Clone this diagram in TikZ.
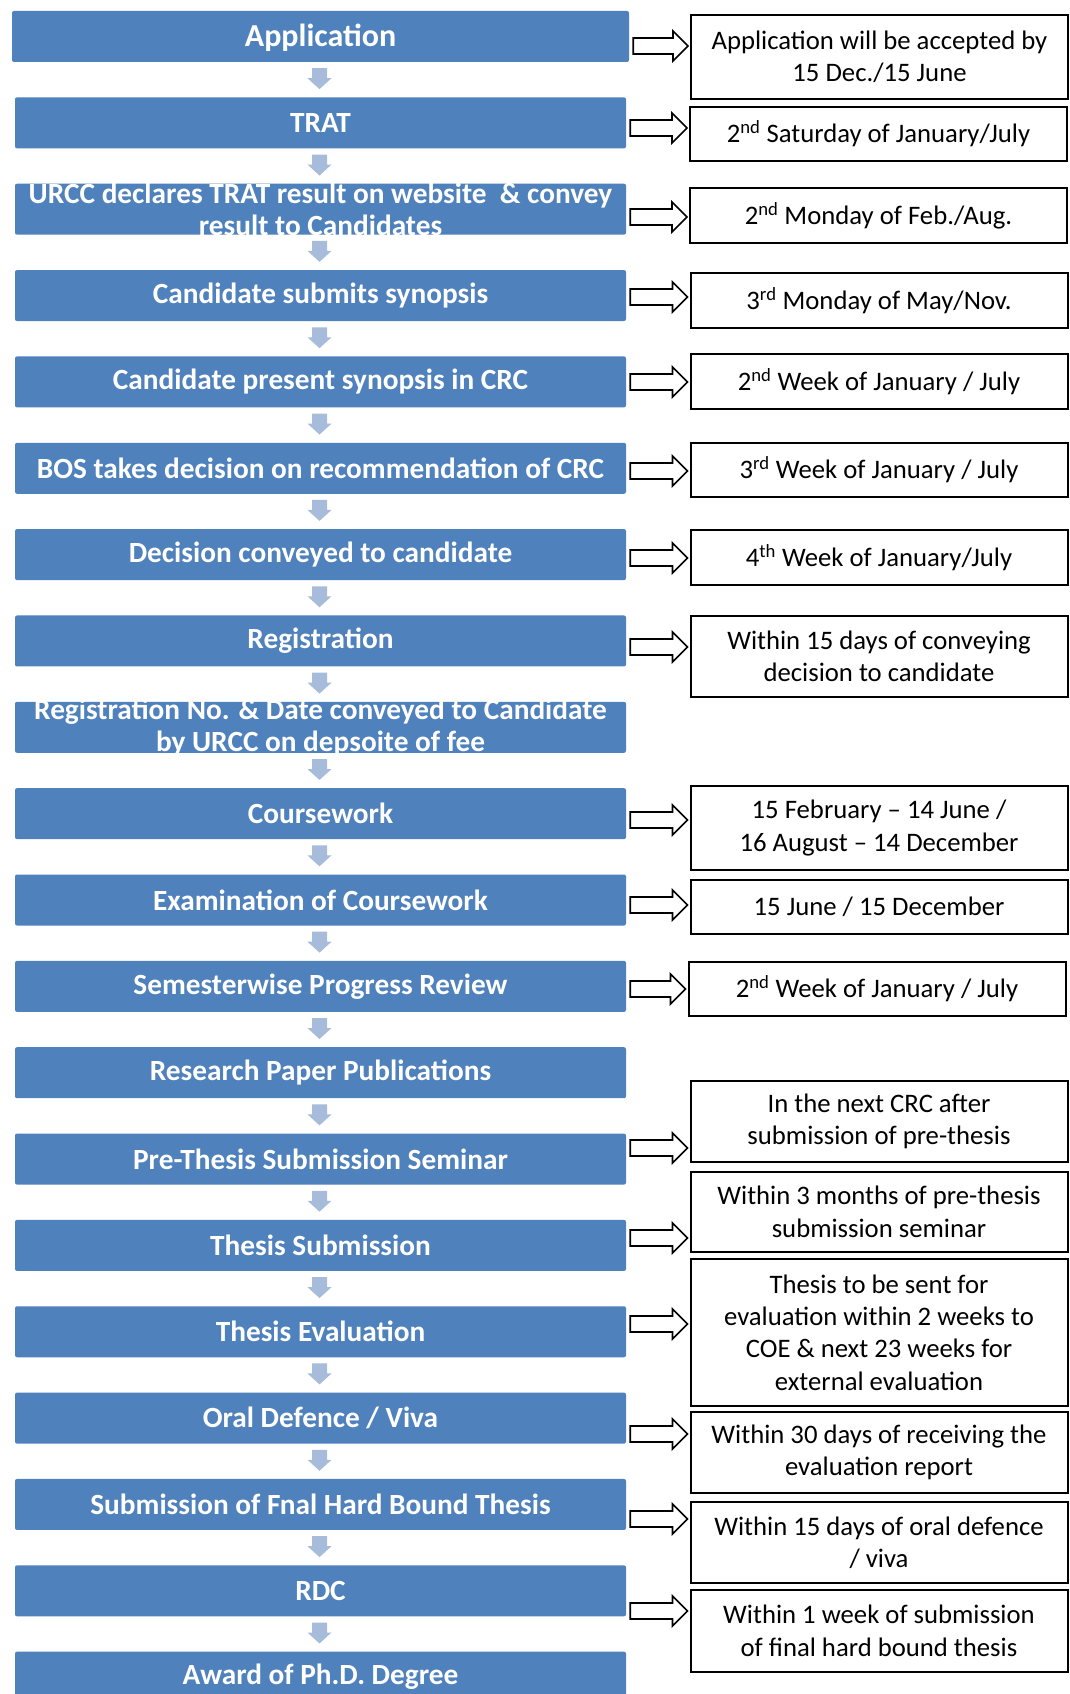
\documentclass[tikz,border=0pt]{standalone}
\usepackage{fontspec}
\setmainfont{Carlito}
\usetikzlibrary{calc}
\definecolor{boxblue}{RGB}{79,129,189}
\definecolor{arrblue}{RGB}{167,187,218}
\newcommand\harrow[3]{%
 \draw[hollow] let \p1=(#1.east), \p2=(#2.west), \p3=(0,#3) in
 (\x1+4pt,\y3+8pt) -- (\x2-17pt,\y3+8pt) -- (\x2-17pt,\y3+15pt) -- (\x2-2pt,\y3)
 -- (\x2-17pt,\y3-15pt) -- (\x2-17pt,\y3-8pt) -- (\x1+4pt,\y3-8pt) -- cycle;}
\newcommand\varrow[2]{%
 \fill[arrblue] let \p1=(#1.south), \p2=(#2.north) in
 (\x1-8.5pt,\y1-6pt) -- (\x1+6.5pt,\y1-6pt) -- (\x1+6.5pt,\y1-16pt) -- (\x1+11pt,\y1-16pt)
 -- (\x1-1pt,\y2+8pt) -- (\x1-13pt,\y1-16pt) -- (\x1-8.5pt,\y1-16pt) -- cycle;}
\begin{document}
\begin{tikzpicture}[x=1pt,y=-1pt,
  bbox/.style={fill=boxblue,draw=none,rounded corners=2pt,minimum width=611pt,minimum height=51pt,inner sep=0pt},
  btext/.style={text=white,font=\bfseries\fontsize{29.3}{32.4}\selectfont,align=center,inner sep=0pt},
  rbox/.style={draw=black,line width=2pt,fill=white,minimum width=377pt,inner sep=0pt,align=center,font=\fontsize{26.7}{32.4}\selectfont},
  hollow/.style={draw=black,line width=1.6pt,fill=white,line join=miter}]
\clip (0,0) rectangle (1070,1694);
\fill[white] (0,0) rectangle (1070,1694);
% blue boxes
\node[bbox,minimum width=617pt] (b0) at (320.5,36.5) {};
\node[bbox] (b1) at (320.5,122.85) {};
\node[bbox] (b2) at (320.5,209.2) {};
\node[bbox] (b3) at (320.5,295.55) {};
\node[bbox] (b4) at (320.5,381.9) {};
\node[bbox] (b5) at (320.5,468.25) {};
\node[bbox] (b6) at (320.5,554.6) {};
\node[bbox] (b7) at (320.5,640.95) {};
\node[bbox] (b8) at (320.5,727.3) {};
\node[bbox] (b9) at (320.5,813.65) {};
\node[bbox] (b10) at (320.5,900.0) {};
\node[bbox] (b11) at (320.5,986.35) {};
\node[bbox] (b12) at (320.5,1072.7) {};
\node[bbox] (b13) at (320.5,1159.05) {};
\node[bbox] (b14) at (320.5,1245.4) {};
\node[bbox] (b15) at (320.5,1331.75) {};
\node[bbox] (b16) at (320.5,1418.1) {};
\node[bbox] (b17) at (320.5,1504.45) {};
\node[bbox] (b18) at (320.5,1590.8) {};
\node[bbox] (b19) at (320.5,1677.15) {};
% blue texts
\node[btext,font=\bfseries\fontsize{32}{36}\selectfont] (t0) at ([yshift=-1pt]b0) {Application};
\node[btext] (t1) at (b1) {TRAT};
\node[btext] (t2) at (b2) {URCC declares TRAT result on website \ \& convey\\result to Candidates};
\node[btext] (t3) at (b3) {Candidate submits synopsis};
\node[btext] (t4) at (b4) {Candidate present synopsis in CRC};
\node[btext] (t5) at (b5) {BOS takes decision on recommendation of CRC};
\node[btext] (t6) at (b6) {Decision conveyed to candidate};
\node[btext] (t7) at (b7) {Registration};
\node[btext] (t8) at (b8) {Registration No. \& Date conveyed to Candidate\\by URCC on depsoite of fee};
\node[btext] (t9) at (b9) {Coursework};
\node[btext] (t10) at (b10) {Examination of Coursework};
\node[btext] (t11) at (b11) {Semesterwise Progress Review};
\node[btext] (t12) at (b12) {Research Paper Publications};
\node[btext] (t13) at (b13) {Pre-Thesis Submission Seminar};
\node[btext] (t14) at (b14) {Thesis Submission};
\node[btext] (t15) at (b15) {Thesis Evaluation};
\node[btext] (t16) at (b16) {Oral Defence / Viva};
\node[btext] (t17) at (b17) {Submission of Fnal Hard Bound Thesis};
\node[btext] (t18) at (b18) {RDC};
\node[btext] (t19) at (b19) {Award of Ph.D. Degree};
% down arrows
\foreach \i [evaluate=\i as \j using int(\i+1)] in {0,...,18} {\varrow{b\i}{b\j}}
% right boxes
\node[rbox,minimum height=84pt] (r1) at (879.5,57) {Application will be accepted by\\15 Dec./15 June};
\node[rbox,minimum height=54pt] (r2) at (878.5,134) {2\textsuperscript{nd} Saturday of January/July};
\node[rbox,minimum height=55pt] (r3) at (878.5,215.5) {2\textsuperscript{nd} Monday of Feb./Aug.};
\node[rbox,minimum height=55pt] (r4) at (879,300.5) {3\textsuperscript{rd} Monday of May/Nov.};
\node[rbox,minimum height=55pt] (r5) at (879,381.5) {2\textsuperscript{nd} Week of January / July};
\node[rbox,minimum height=54pt] (r6) at (879,470) {3\textsuperscript{rd} Week of January / July};
\node[rbox,minimum height=55pt] (r7) at (879,557.5) {4\textsuperscript{th} Week of January/July};
\node[rbox,minimum height=81pt] (r8) at (879,656.5) {Within 15 days of conveying\\decision to candidate};
\node[rbox,minimum height=84pt] (r9) at (879,828) {15 February – 14 June /\\16 August – 14 December};
\node[rbox,minimum height=54pt] (r10) at (879,907) {15 June / 15 December};
\node[rbox,minimum height=54pt] (r11) at (877,989) {2\textsuperscript{nd} Week of January / July};
\node[rbox,minimum height=81pt] (r12) at (879,1121.5) {In the next CRC after\\submission of pre-thesis};
\node[rbox,minimum height=80pt] (r13) at (879,1212) {Within 3 months of pre-thesis\\submission seminar};
\node[rbox,minimum height=147pt] (r14) at (879,1332.5) {Thesis to be sent for\\evaluation within 2 weeks to\\COE \& next 23 weeks for\\external evaluation};
\node[rbox,minimum height=81pt] (r15) at (879,1452.5) {Within 30 days of receiving the\\evaluation report};
\node[rbox,minimum height=81pt] (r16) at (879,1542.5) {Within 15 days of oral defence\\/ viva};
\node[rbox,minimum height=82pt] (r17) at (879,1631) {Within 1 week of submission\\of final hard bound thesis};
% hollow arrows
\harrow{b0}{r1}{46}
\harrow{b1}{r2}{128}
\harrow{b2}{r3}{217}
\harrow{b3}{r4}{297}
\harrow{b4}{r5}{382}
\harrow{b5}{r6}{471}
\harrow{b6}{r7}{558}
\harrow{b7}{r8}{647}
\harrow{b9}{r9}{820}
\harrow{b10}{r10}{905}
\harrow{b11}{r11}{989}
\harrow{b13}{r12}{1148}
\harrow{b14}{r13}{1238}
\harrow{b15}{r14}{1324}
\harrow{b16}{r15}{1434}
\harrow{b17}{r16}{1519}
\harrow{b18}{r17}{1611}
\end{tikzpicture}
\end{document}
